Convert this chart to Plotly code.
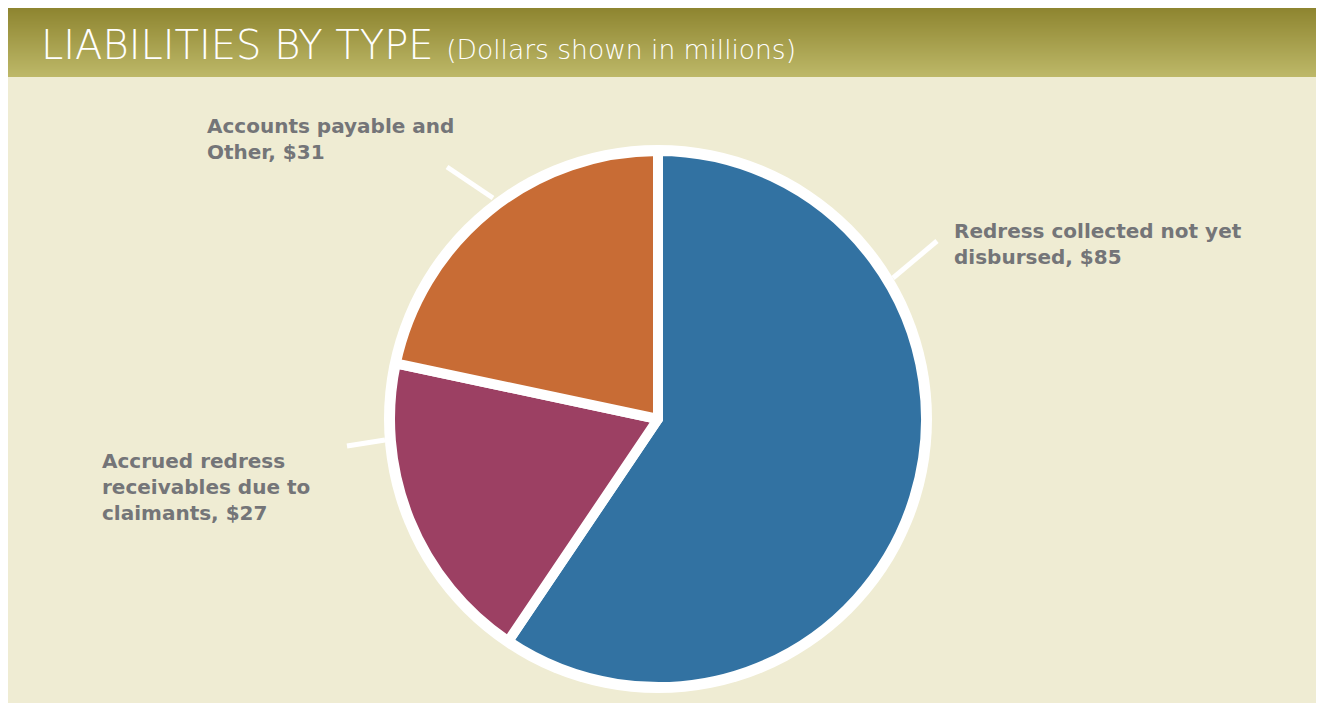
import plotly.graph_objects as go

labels = ["Redress collected not yet disbursed", "Accrued redress receivables due to claimants", "Accounts payable and Other"]
values = [85, 27, 31]
colors = ["#3272A2", "#9C4063", "#C86C35"]
label_texts = ["Redress collected not yet<br>disbursed, $85",
               "Accrued redress<br>receivables due to<br>claimants, $27",
               "Accounts payable and<br>Other, $31"]

# page has an 8px body margin; work in screen pixels and convert
OFF = 8
W, H = 1316, 695
def px(x): return (x - OFF) / W
def py(y): return 1 - (y - OFF) / H

cx, cy, R = 658, 419, 268

fig = go.Figure()
fig.add_trace(go.Pie(
    labels=labels, values=values, sort=False, direction="clockwise", rotation=0,
    marker=dict(colors=colors, line=dict(color="white", width=10)),
    textinfo="none", hoverinfo="label+value", showlegend=False,
    domain=dict(x=[px(cx - R), px(cx + R)], y=[py(cy + R), py(cy - R)]),
))

shapes = []
shapes.append(dict(type="rect", xref="paper", yref="paper", x0=px(8), x1=px(1318), y0=0, y1=py(77),
                   fillcolor="#EFECD3", line=dict(width=0), layer="below"))
top = (0x8E, 0x85, 0x30); bot = (0xBD, 0xB8, 0x68)
y0h, y1h = 8, 77
n = y1h - y0h
for i in range(n):
    t = i / (n - 1)
    c = tuple(int(round(top[k] + (bot[k] - top[k]) * t)) for k in range(3))
    ya = y0h + i
    yb = min(y0h + i + 1.5, y1h)
    shapes.append(dict(type="rect", xref="paper", yref="paper", x0=px(8), x1=px(1318),
                       y0=py(yb), y1=min(py(ya), 1),
                       fillcolor="rgb(%d,%d,%d)" % c, line=dict(width=0), layer="below"))
Ro = 274
shapes.append(dict(type="circle", xref="paper", yref="paper",
                   x0=px(cx - Ro), x1=px(cx + Ro), y0=py(cy + Ro), y1=py(cy - Ro),
                   fillcolor="white", line=dict(width=0), layer="below"))
leaders = [((937, 241), (893, 278)), ((347, 446), (385, 440)), ((447, 167), (493, 198))]
for (a, b) in leaders:
    shapes.append(dict(type="line", xref="paper", yref="paper", x0=px(a[0]), y0=py(a[1]),
                       x1=px(b[0]), y1=py(b[1]), line=dict(color="white", width=5), layer="below"))

lab_pos = [(952, 244), (100, 487), (205, 139)]
annotations = []
for txt, (x, y) in zip(label_texts, lab_pos):
    annotations.append(dict(text=txt, x=px(x), y=py(y), xref="paper", yref="paper",
                            xanchor="left", yanchor="middle", align="left", showarrow=False,
                            font=dict(family="DejaVu Sans", size=20, color="#747578", weight="bold")))
annotations.append(dict(text="LIABILITIES BY TYPE <span style='font-size:26.5px'>(Dollars shown in millions)</span>",
                        x=px(39), y=py(45), xref="paper", yref="paper", xanchor="left", yanchor="middle",
                        showarrow=False, font=dict(family="DejaVu Sans", size=40, color="white", weight=200)))

fig.update_layout(width=W, height=H, margin=dict(l=0, r=0, t=0, b=0),
                  paper_bgcolor="white", plot_bgcolor="white",
                  shapes=shapes, annotations=annotations)
fig.write_html("out.html")
